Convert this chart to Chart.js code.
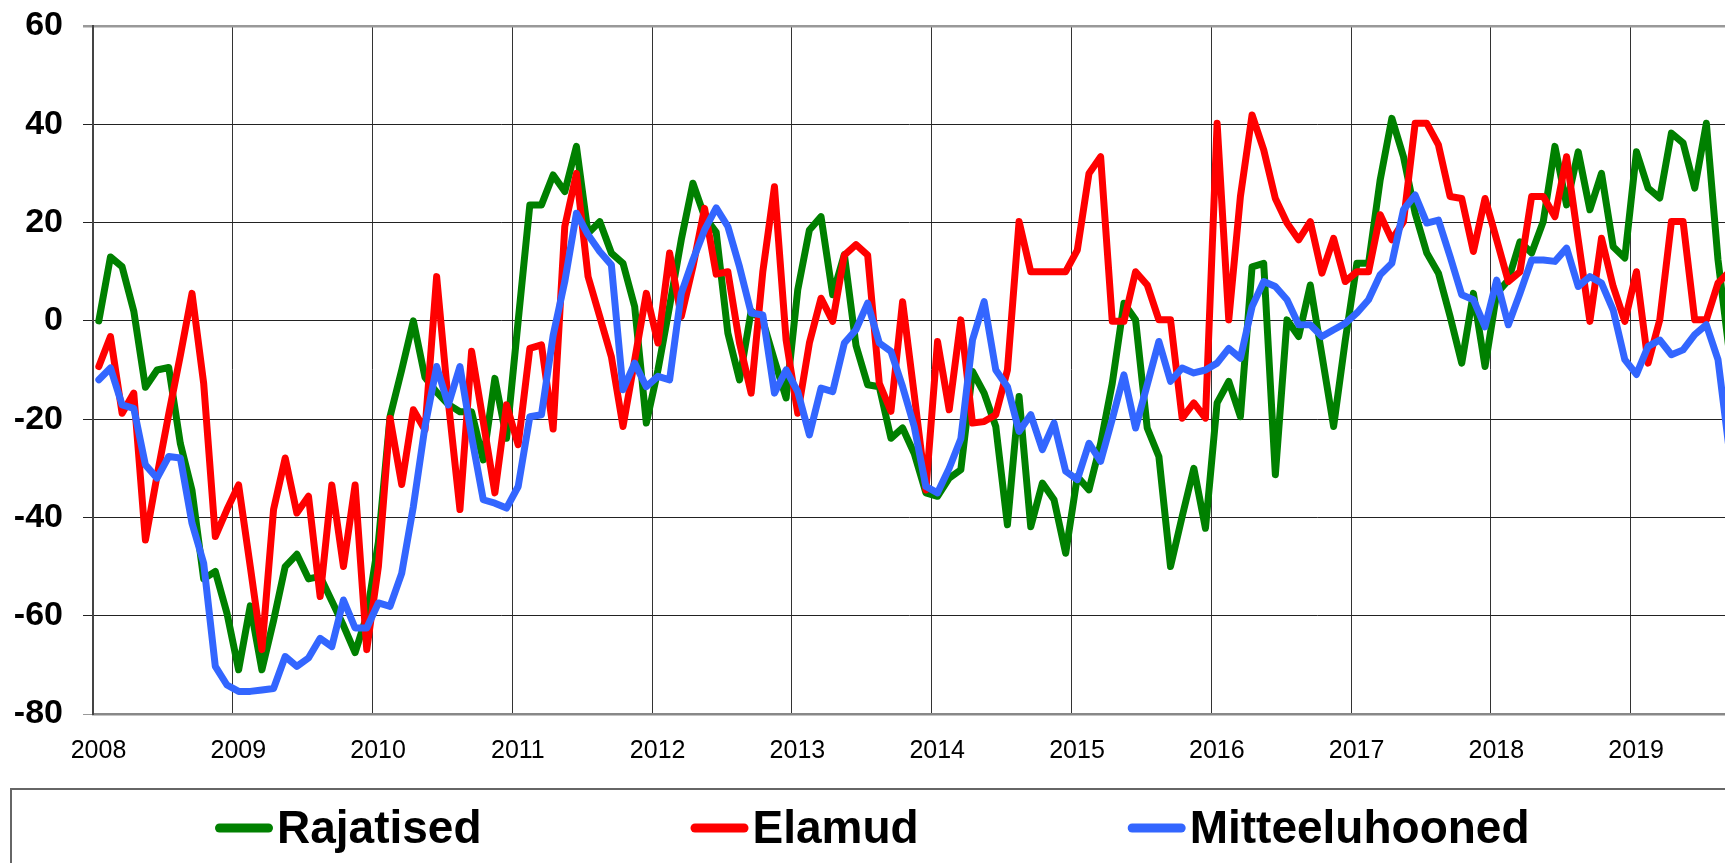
<!DOCTYPE html>
<html><head><meta charset="utf-8">
<script src="https://cdn.jsdelivr.net/npm/chart.js@4.4.1/dist/chart.umd.min.js"></script>
<style>html,body{margin:0;padding:0;background:#fff;}#wrap{width:1725px;height:863px;position:relative;}canvas{display:block;}</style>
</head><body><div id="wrap"><canvas id="c" width="1725" height="863"></canvas></div>
<script>
const yearLabels = ['2008','2009','2010','2011','2012','2013','2014','2015','2016','2017','2018','2019'];
const seriesNames = ['Rajatised','Elamud','Mitteeluhooned'];
const seriesColors = ['#008000','#FF0000','#3366FF'];
const yTicks = [-80,-60,-40,-20,0,20,40,60];

const rajatised = [
 0, 13, 11, 2, -13.5, -10, -9.5, -25, -34.5, -52.5, -51, -59.5,
 -71, -58, -71, -61, -50, -47.5, -52.5, -52, -57, -62, -67.5, -60,
 -45, -19.5, -10, 0, -11.5, -14.5, -17, -18.5, -18.5, -28.3, -11.7, -23.9,
 0, 23.6, 23.6, 29.7, 26.3, 35.5, 17.8, 20.2, 13.8, 11.7, 2.9, -20.8,
 -10, 3, 16.5, 28, 21.2, 18, -2.5, -12, 2, 0, -8, -15.7,
 6.3, 18.5, 21.2, 5.3, 13.5, -5, -13, -13.4, -23.9, -21.8, -27, -35,
 -35.7, -32, -30.3, -10.3, -14.7, -21.5, -41.5, -15.4, -41.9, -33, -36.4, -47.3,
 -31.7, -34.4, -25, -12.7, 3.6, 0.2, -21.8, -27.6, -50, -39.8, -30, -42.2,
 -16.7, -12.3, -19.5, 11, 11.7, -31.3, 0.2, -3.2, 7.3, -7, -21.5, -4,
 11.7, 11.7, 28.7, 41.2, 33.4, 21.9, 13.8, 9.7, 0.9, -8.6, 5.6, -9.3,
 5.6, 8.3, 16.1, 13.8, 20.2, 35.5, 23.6, 34.4, 22.6, 30, 15.1, 12.8,
 34.4, 27, 25, 38.2, 36.2, 27, 40.2, 12.4, -7
];
const elamud = [
 -9.3, -3.2, -18.8, -14.7, -44.6, -31.5, -19, -7, 5.6, -12.7, -43.9, -38.4,
 -33.4, -50, -66.9, -38.4, -27.9, -39.1, -35.7, -56.1, -33.4, -50, -33.4, -66.9,
 -50, -19.8, -33.3, -18.1, -22.2, 9, -16.4, -38.4, -6.2, -20.5, -35, -17.1,
 -25.2, -5.6, -4.9, -22, 19.2, 30, 9, 0.9, -7.3, -21.5, -8, 5.6,
 -4.5, 13.8, 0.9, 11, 22.9, 9.5, 10, -4.5, -14.7, 10, 27.3, -3.9,
 -18.8, -4.5, 4.6, -0.1, 13.4, 15.5, 13.4, -12.7, -18.4, 3.9, -15, -34.4,
 -4.2, -18.1, 0.2, -20.8, -20.5, -19.1, -10, 20.2, 10, 10, 10, 10,
 14.4, 30, 33.4, -0.1, -0.1, 10, 7.3, 0.2, 0.2, -19.8, -16.7, -19.8,
 40.2, 0.2, 25.3, 41.9, 34.8, 24.9, 19.9, 16.5, 20.2, 9.7, 16.8, 8,
 10, 10, 21.6, 16.5, 20.2, 40.2, 40.2, 35.8, 25.3, 24.9, 14.1, 24.9,
 16.5, 8, 10, 25.3, 25.3, 21.2, 33.4, 16.5, -0.1, 16.8, 7, -0.1,
 10, -8.6, 0.2, 20.2, 20.2, 0.2, 0.2, 7.7, 10
];
const mitteeluhooned = [
 -12, -9.6, -17.1, -17.8, -29.3, -32, -27.6, -27.9, -41.2, -49.3, -70.3, -74.1,
 -75.4, -75.4, -75.1, -74.8, -68.3, -70.3, -68.6, -64.6, -66.3, -56.8, -62.5, -62.5,
 -57.4, -58.1, -51.4, -37.8, -21.5, -9.3, -17.1, -9.3, -23.5, -36.4, -37.1, -38.1,
 -33.7, -19.5, -19.1, -3, 8, 21.9, 17.5, 14.1, 11.4, -14, -8.6, -13.4,
 -11.3, -12, 5.6, 12.4, 18.5, 23, 19.2, 11, 1.6, 1.2, -14.7, -10,
 -14.4, -23.2, -13.7, -14.4, -4.5, -1.8, 3.6, -4.5, -6.2, -13.4, -21.5, -33.7,
 -35, -30, -24, -3.9, 3.9, -10, -13.4, -22.5, -19.1, -26.2, -20.8, -30.6,
 -32.3, -24.9, -28.6, -20, -11, -21.8, -13, -4.2, -12.3, -9.6, -10.6, -10,
 -8.6, -5.6, -7.6, 2.9, 8, 7, 4.3, -0.8, -0.8, -3.2, -1.8, -0.5,
 1.6, 4.3, 9.4, 11.7, 22.6, 25.6, 19.9, 20.5, 13.1, 5.3, 4.3, -1.2,
 8.3, -0.8, 5.6, 12.4, 12.4, 12.1, 14.8, 7, 9, 7.7, 2.2, -7.9,
 -10.9, -5.2, -3.9, -6.9, -5.9, -2.8, -0.8, -7.9, -27
];
const seriesValues = [rajatised, elamud, mitteeluhooned];

function hasFont(name){
  const c = document.createElement('canvas').getContext('2d');
  const s = '2008 2019 Mitteeluhooned';
  c.font = '40px monospace'; const a = c.measureText(s).width;
  c.font = '40px "' + name + '", monospace'; const b = c.measureText(s).width;
  return Math.abs(a - b) > 0.5;
}
let xFont;
if (hasFont('Liberation Sans Narrow')) xFont = {family: '"Liberation Sans Narrow", sans-serif', size: 28};
else if (hasFont('Arial Narrow')) xFont = {family: '"Arial Narrow", sans-serif', size: 28};
else xFont = {family: '"Liberation Sans", Arial, sans-serif', size: 25};

const datasets = seriesNames.map((name, s) => ({
  label: name,
  data: seriesValues[s].map((v, i) => ({x: i, y: v})),
  borderColor: seriesColors[s],
  backgroundColor: seriesColors[s],
  borderWidth: 7,
  pointRadius: 0,
  pointHoverRadius: 0,
  tension: 0,
  fill: false,
  borderJoinStyle: 'round',
  borderCapStyle: 'round',
  order: 2 - s
}));

const boxLegend = {
  id: 'boxLegend',
  afterDraw(chart) {
    const ctx = chart.ctx;
    ctx.save();
    ctx.strokeStyle = '#666';
    ctx.lineWidth = 2;
    ctx.strokeRect(11, 789, 1800, 200);
    ctx.font = 'bold 46px "Liberation Sans", Arial, sans-serif';
    ctx.textBaseline = 'alphabetic';
    ctx.textAlign = 'left';
    let x = 215;
    const cy = 828;
    chart.data.datasets.forEach(ds => {
      ctx.strokeStyle = ds.borderColor;
      ctx.lineWidth = 9;
      ctx.lineCap = 'round';
      ctx.beginPath();
      ctx.moveTo(x + 4.5, cy);
      ctx.lineTo(x + 53.5, cy);
      ctx.stroke();
      ctx.fillStyle = '#000';
      ctx.fillText(ds.label, x + 62, 843);
      x += 62 + ctx.measureText(ds.label).width + 209;
    });
    ctx.restore();
  }
};

new Chart(document.getElementById('c'), {
  type: 'line',
  data: { datasets },
  options: {
    responsive: false,
    animation: false,
    devicePixelRatio: 1,
    layout: { padding: { top: 26, bottom: 99, left: 0, right: 0 } },
    plugins: { legend: { display: false }, tooltip: { enabled: false } },
    scales: {
      x: {
        type: 'linear',
        min: -0.5,
        max: 139.6,
        afterBuildTicks: sc => { sc.ticks = yearLabels.map((_, k) => ({ value: -0.5 + 12 * k })); },
        afterFit: sc => { sc.height = 50; sc.paddingLeft = 0; sc.paddingRight = 0; },
        ticks: {
          autoSkip: false, maxRotation: 0, minRotation: 0,
          padding: 22, labelOffset: 5.5, color: '#000',
          font: xFont,
          callback: (v, idx) => yearLabels[idx]
        },
        grid: { color: '#333', lineWidth: 1, drawTicks: false },
        border: { display: true, color: '#888', width: 2.5 }
      },
      y: {
        min: -80, max: 60,
        afterBuildTicks: sc => { sc.ticks = yTicks.map(v => ({ value: v })); },
        afterFit: sc => { sc.width = 93; sc.paddingTop = 0; sc.paddingBottom = 0; },
        ticks: {
          padding: 20, color: '#000',
          font: { family: '"Liberation Sans", Arial, sans-serif', size: 34, weight: 'bold' },
          callback: v => String(v)
        },
        grid: {
          color: c => (c.tick && (c.tick.value === 60 || c.tick.value === -80)) ? '#999' : '#222',
          lineWidth: c => (c.tick && c.tick.value === 60) ? 2.5 : 1,
          tickLength: 10, drawTicks: true
        },
        border: { display: true, color: '#444', width: 2 }
      }
    }
  },
  plugins: [boxLegend]
});
</script>
</body></html>
